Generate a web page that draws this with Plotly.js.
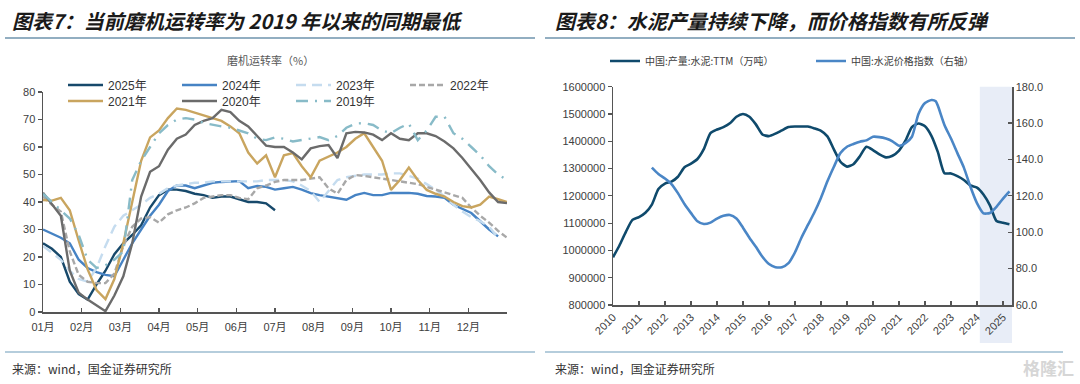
<!DOCTYPE html>
<html><head><meta charset="utf-8">
<script src="https://cdn.plot.ly/plotly-3.0.1.min.js"></script>
<style>html,body{margin:0;padding:0;background:#fff}#chart{width:1080px;height:384px}</style>
</head><body><div id="chart"></div>
<script>
// ---------- Left chart: weekly mill operating rate (%) ----------
const weeks = [0,1,2,3,4,5,6,7,8,9,10,11,12,13,14,15,16,17,18,19,20,21,22,23,24,25,26,27,28,29,30,31,32,33,34,35,36,37,38,39,40,41,42,43,44,45,46,47,48,49,50,51,52];
const monthLabels = ['01月','02月','03月','04月','05月','06月','07月','08月','09月','10月','11月','12月',''];
const y2025 = [25,23,20,11,6.5,4.5,10,15,21,25,28,31.5,38,42.5,44.5,44.5,44,43,42.5,41.5,42,42,41,40,40,39.5,37];
const y2024 = [30,28.5,27,25,19,16,14.5,13.5,13,19,25,30,35,39,44,46,46,45,46,47,47.3,47.4,47.6,45,45.8,45.5,44.5,45,45.5,44.5,43.2,42.5,42,41.3,40.8,42.5,43.3,42.5,42.5,43.3,43.3,43.3,43,42.2,42,41.5,39,37.5,36,33,30,27.5];
const y2023 = [24,21.5,19,15,12,11,16,24,31,35,37,39,41.5,43,45,46,46.5,47,47,47.5,47.5,47.5,47.6,47.5,47.5,48,48,48,47.5,46,44,40,44,48,49,49.5,50,50,50,50.4,50.4,49.5,48.5,46.5,44.5,42,39,36.5,34.5,33,31,27];
const y2022 = [42,39,36.5,22,13.5,11,10.5,10.5,14,24,31,34,34.5,32.5,35.5,37,38,39.5,41.5,42,42.5,42.5,41.5,41,45,46,47.3,48,48,48,48.5,49,45,43,48,49.8,49.5,49,48.5,48,47.5,47,46.5,45.5,44.5,43.5,42.5,41.5,38,35,32.5,29.5,27];
const y2021 = [40.7,40.5,41.5,37,26,15.5,8,4.7,12,25,40,55,63.5,66,70.5,74,73.5,72.5,71.5,70.5,69.5,67.5,65,58,54,57,49,57,57.8,53,49,55,56.5,58,60,63,65,60,55,44.4,48,52.5,48,44.4,43,42,40,38.5,38,39,42,41,40];
const y2020 = [43.4,39,35,15,7,4.5,2.5,0.3,6,13,25,42,51,53,59,63,64.5,68,69.5,70.5,73.5,72.7,69.5,67.5,64,60.5,60,60,58,55.5,59.5,60.3,60.7,56,65,65.5,65.3,64.5,62.5,65,63,62.5,65,65,64,62,59.5,56,52,48,43.5,40,39.6];
const y2019 = [43,40,37,34,28,19,16,17,19,22,48,55,60,65,68,70,70.5,70,68.7,68,67.5,67,66,65,63,62.5,63.5,63,62,62.5,63,63.6,62.5,64,67,68.5,68.7,68,66,65,67,68.5,62.5,66,71,71,65,63,60,57,53,50,48];

// ---------- Right chart: cement output TTM & cement price index ----------
const prodDates = ['2010-01-01','2010-04-01','2010-07-01','2010-10-01','2011-01-01','2011-04-01','2011-07-01','2011-10-01','2012-01-01','2012-04-01','2012-07-01','2012-10-01','2013-01-01','2013-04-01','2013-07-01','2013-10-01','2014-01-01','2014-04-01','2014-07-01','2014-10-01','2015-01-01','2015-04-01','2015-07-01','2015-10-01','2016-01-01','2016-04-01','2016-07-01','2016-10-01','2017-01-01','2017-04-01','2017-07-01','2017-10-01','2018-01-01','2018-04-01','2018-07-01','2018-10-01','2019-01-01','2019-04-01','2019-07-01','2019-10-01','2020-01-01','2020-04-01','2020-07-01','2020-10-01','2021-01-01','2021-04-01','2021-07-01','2021-10-01','2022-01-01','2022-04-01','2022-07-01','2022-10-01','2023-01-01','2023-04-01','2023-07-01','2023-10-01','2024-01-01','2024-04-01','2024-07-01','2024-10-01','2025-01-01','2025-04-01'];
const prodTTM = [975000,1018000,1068000,1112000,1122000,1138000,1168000,1225000,1245000,1252000,1270000,1305000,1318000,1335000,1372000,1430000,1443000,1452000,1466000,1490000,1500000,1490000,1462000,1425000,1419000,1428000,1440000,1452000,1454000,1454000,1454000,1447000,1438000,1418000,1370000,1325000,1307000,1316000,1345000,1380000,1368000,1352000,1341000,1347000,1366000,1402000,1452000,1465000,1455000,1420000,1360000,1283000,1282000,1272000,1258000,1238000,1230000,1205000,1165000,1108000,1101000,1096000];
const priceDates = ['2011-07-01','2011-10-01','2012-01-01','2012-04-01','2012-07-01','2012-10-01','2013-01-01','2013-04-01','2013-07-01','2013-10-01','2014-01-01','2014-04-01','2014-07-01','2014-10-01','2015-01-01','2015-04-01','2015-07-01','2015-10-01','2016-01-01','2016-04-01','2016-07-01','2016-10-01','2017-01-01','2017-04-01','2017-07-01','2017-10-01','2018-01-01','2018-04-01','2018-07-01','2018-10-01','2019-01-01','2019-04-01','2019-07-01','2019-10-01','2020-01-01','2020-04-01','2020-07-01','2020-10-01','2021-01-01','2021-04-01','2021-07-01','2021-10-01','2022-01-01','2022-04-01','2022-06-01','2022-07-01','2022-10-01','2023-01-01','2023-04-01','2023-07-01','2023-10-01','2024-01-01','2024-04-01','2024-07-01','2024-10-01','2025-01-01','2025-04-01'];
const priceIdx = [135.5,132,129.5,126.5,121.5,115.5,110.5,106,104.5,105.3,107.5,109,109.5,107.5,102.5,97,92,86.5,82.5,80.8,80.8,83,89,97,104,111,119,128,136,143.5,147,148.5,149.8,150.5,152.5,152.3,151.5,150,147.5,149,152.5,165,171,172.7,172,169.5,159,151.5,143.5,135.5,125,116,110.4,110.6,114,118.5,122.5];
const yearTicks = ['2010','2011','2012','2013','2014','2015','2016','2017','2018','2019','2020','2021','2022','2023','2024','2025'];

const W = 1080, H = 384;
const px = v => v / W;            // pixel -> paper x
const py = v => (H - v) / H;      // pixel -> paper y

const FONT = 'Liberation Sans, Arial, Noto Sans CJK SC, sans-serif';
const CJK = 'Noto Sans CJK SC, sans-serif';

function leftTrace(name, y, color, dash, legend) {
  return {x: weeks.slice(0, y.length), y: y, name: name, type: 'scatter', mode: 'lines',
    line: {color: color, width: 2.4, dash: dash}, xaxis: 'x', yaxis: 'y', legend: legend};
}

const traces = [
  leftTrace('2025年', y2025, '#17496B', 'solid', 'legend'),
  leftTrace('2024年', y2024, '#4683C4', 'solid', 'legend'),
  leftTrace('2023年', y2023, '#C5DCEF', '10px,6px', 'legend'),
  leftTrace('2022年', y2022, '#A8A8A8', '6px,3px', 'legend'),
  leftTrace('2021年', y2021, '#C9A55F', 'solid', 'legend2'),
  leftTrace('2020年', y2020, '#6B6B6B', 'solid', 'legend2'),
  leftTrace('2019年', y2019, '#88BBC8', '12px,7px,2px,7px', 'legend2'),
  {x: prodDates, y: prodTTM, name: '中国:产量:水泥:TTM（万吨）', type: 'scatter', mode: 'lines',
    line: {color: '#0F4A6C', width: 2.6, shape: 'spline', smoothing: 0.6}, xaxis: 'x2', yaxis: 'y2', legend: 'legend3'},
  {x: priceDates, y: priceIdx, name: '中国:水泥价格指数（右轴）', type: 'scatter', mode: 'lines',
    line: {color: '#4A86C6', width: 2.6, shape: 'spline', smoothing: 0.6}, xaxis: 'x2', yaxis: 'y3', legend: 'legend3'}
];

const axisCommon = {showgrid: false, zeroline: false, showline: true, linecolor: '#555555', linewidth: 1.5,
  tickcolor: '#555555', tickwidth: 1.2, tickfont: {family: FONT, size: 11, color: '#404040'}, fixedrange: true};

const layout = {
  width: W, height: H, margin: {l: 0, r: 0, t: 0, b: 0}, paper_bgcolor: '#fff', plot_bgcolor: 'rgba(0,0,0,0)',
  showlegend: true,
  xaxis: Object.assign({}, axisCommon, {domain: [px(43), px(507)], range: [0, 52], tickmode: 'array',
    tickvals: monthLabels.map((m, i) => i * 52 / 12), ticktext: monthLabels, ticks: 'inside', ticklen: 4,
    ticklabelstandoff: 4, anchor: 'y'}),
  yaxis: Object.assign({}, axisCommon, {domain: [py(312), py(92)], range: [0, 80], dtick: 10, ticks: 'outside',
    ticklen: 4, anchor: 'x'}),
  xaxis2: Object.assign({}, axisCommon, {domain: [px(613), px(1012)], type: 'date',
    range: ['2010-01-01', '2025-05-07'], tickmode: 'array', tickvals: yearTicks.map(y => y + '-01-01'), ticktext: yearTicks,
    tickangle: -45, ticks: 'inside', ticklen: 4, anchor: 'y2'}),
  yaxis2: Object.assign({}, axisCommon, {domain: [py(305), py(86.7)], range: [800000, 1600000], dtick: 100000,
    tickformat: 'd', ticks: 'outside', ticklen: 4, anchor: 'x2'}),
  yaxis3: Object.assign({}, axisCommon, {overlaying: 'y2', side: 'right', anchor: 'x2', range: [60, 180], dtick: 20,
    tickformat: '.1f', ticks: 'inside', ticklen: 4}),
  legend: {orientation: 'h', x: px(63), xanchor: 'left', y: py(85), yanchor: 'middle', itemwidth: 35,
    entrywidth: 64, font: {family: FONT, size: 12, color: '#333'}, bgcolor: 'rgba(0,0,0,0)', traceorder: 'normal'},
  legend2: {orientation: 'h', x: px(63), xanchor: 'left', y: py(101), yanchor: 'middle', itemwidth: 35,
    entrywidth: 64, font: {family: FONT, size: 12, color: '#333'}, bgcolor: 'rgba(0,0,0,0)', traceorder: 'normal'},
  legend3: {orientation: 'h', x: px(605), xanchor: 'left', y: py(61), yanchor: 'middle', itemwidth: 30,
    entrywidth: 161, font: {family: CJK, size: 10, color: '#404040'}, bgcolor: 'rgba(0,0,0,0)', traceorder: 'normal'},
  shapes: [
    {type: 'rect', xref: 'x2', yref: 'paper', x0: '2024-02-10', x1: '2025-05-07', y0: py(343), y1: py(86.7),
      fillcolor: '#E8EDF7', line: {width: 0}, layer: 'below'},
    {type: 'line', xref: 'paper', yref: 'paper', x0: px(5), x1: px(535), y0: py(38), y1: py(38), line: {color: '#6E93AC', width: 1.3}},
    {type: 'line', xref: 'paper', yref: 'paper', x0: px(545), x1: px(1075), y0: py(38), y1: py(38), line: {color: '#6E93AC', width: 1.3}},
    {type: 'line', xref: 'paper', yref: 'paper', x0: px(5), x1: px(535), y0: py(352), y1: py(352), line: {color: '#9DBCD0', width: 1.3}},
    {type: 'line', xref: 'paper', yref: 'paper', x0: px(545), x1: px(1063), y0: py(352), y1: py(352), line: {color: '#9DBCD0', width: 1.3}}
  ],
  annotations: [
    {text: '图表7：当前磨机运转率为 2019 年以来的同期最低', xref: 'paper', yref: 'paper', x: px(10), y: py(20),
      xanchor: 'left', yanchor: 'middle', showarrow: false,
      font: {family: CJK, size: 20, color: '#1a1a1a', weight: 'bold', style: 'italic'}},
    {text: '图表8：水泥产量持续下降，而价格指数有所反弹', xref: 'paper', yref: 'paper', x: px(553), y: py(20),
      xanchor: 'left', yanchor: 'middle', showarrow: false,
      font: {family: CJK, size: 20, color: '#1a1a1a', weight: 'bold', style: 'italic'}},
    {text: '磨机运转率（%）', xref: 'paper', yref: 'paper', x: px(270), y: py(60), xanchor: 'center', yanchor: 'middle',
      showarrow: false, font: {family: CJK, size: 11, color: '#595959'}},
    {text: '来源：wind，国金证券研究所', xref: 'paper', yref: 'paper', x: px(10), y: py(368), xanchor: 'left', yanchor: 'middle',
      showarrow: false, font: {family: CJK, size: 12, color: '#333'}},
    {text: '来源：wind，国金证券研究所', xref: 'paper', yref: 'paper', x: px(553), y: py(368), xanchor: 'left', yanchor: 'middle',
      showarrow: false, font: {family: CJK, size: 12, color: '#333'}},
    {text: '格隆汇', xref: 'paper', yref: 'paper', x: px(1076), y: py(367), xanchor: 'right', yanchor: 'middle',
      showarrow: false, font: {family: CJK, size: 17, color: '#D6D6D6', weight: 'bold'}}
  ]
};

Plotly.newPlot('chart', traces, layout, {staticPlot: true, displayModeBar: false});
</script>
</body></html>
